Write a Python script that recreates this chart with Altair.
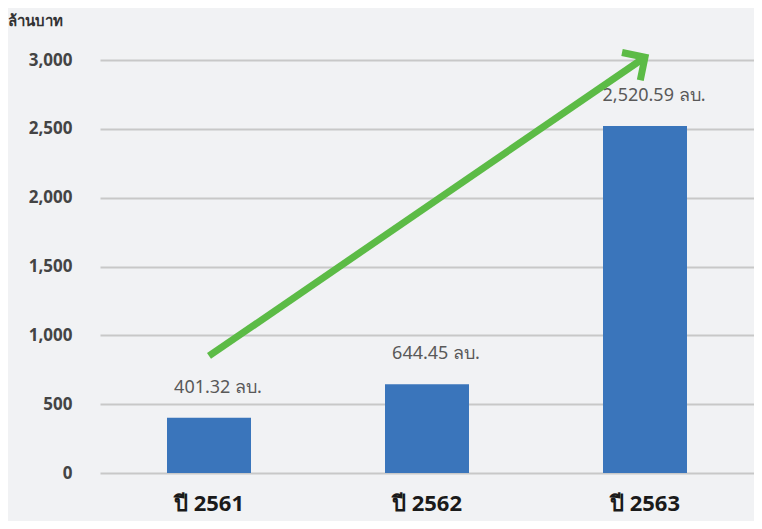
import altair as alt
import pandas as pd

years = ["ปี 2561", "ปี 2562", "ปี 2563"]
values = [401.32, 644.45, 2520.59]
labels = ["401.32 ลบ.", "644.45 ลบ.", "2,520.59 ลบ."]
y_ticks = [0, 500, 1000, 1500, 2000, 2500, 3000]
arrow_x = ["ปี 2561", "ปี 2563"]
arrow_y = [850, 3020]

FONT = "Noto Sans"
df = pd.DataFrame({"year": years, "value": values, "label": labels})
arrow = pd.DataFrame({"x": [arrow_x[0]], "y": [arrow_y[0]], "x2": [arrow_x[1]], "y2": [arrow_y[1]]})
head = pd.DataFrame({"x": [arrow_x[1]], "y": [arrow_y[1]]})

xenc = alt.X("year:N", sort=years, title=None,
             scale=alt.Scale(paddingInner=0, paddingOuter=0),
             axis=alt.Axis(labelAngle=0, labelFontSize=22, labelFontWeight="bold",
                           labelColor="#1a1a1a", labelPadding=20, ticks=False, domain=False,
                           labelFont=FONT))
yscale = alt.Scale(domain=[0, 3000], nice=False)
yenc = alt.Y("value:Q", scale=yscale, title="ล้านบาท",
             axis=alt.Axis(values=y_ticks, format=",.0f", labelFontSize=17, labelFontWeight="bold",
                           labelColor="#444444", labelPadding=28, ticks=False, domain=False,
                           gridColor="#C8C8C8", gridWidth=2, labelFont=FONT,
                           titleAngle=0, titleAlign="left", titleBaseline="middle",
                           titleX=-93, titleY=-40, titleFontSize=15, titleFontWeight="bold",
                           titleColor="#333333", titleFont=FONT))

bars = alt.Chart(df).mark_bar(size=84, color="#3A75BB").encode(x=xenc, y=yenc)
text = alt.Chart(df).mark_text(dy=-30, dx=9, fontSize=18, color="#595959", font=FONT).encode(
    x=alt.X("year:N", sort=years), y=alt.Y("value:Q", scale=yscale), text="label:N")

line = alt.Chart(arrow).mark_rule(color="#5CBB46", strokeWidth=7).encode(
    x=alt.X("x:N", sort=years), y=alt.Y("y:Q", scale=yscale),
    x2="x2:N", y2="y2:Q")
arrowhead = alt.Chart(head).mark_point(
    shape="M-1,1L0,0L1,1", filled=False, stroke="#5CBB46", strokeWidth=7,
    size=1100, angle=56.6, opacity=1, strokeJoin="miter").encode(
    x=alt.X("x:N", sort=years), y=alt.Y("y:Q", scale=yscale))

chart = alt.layer(bars, text, line, arrowhead).properties(
    width=654, height=413,
    autosize=alt.AutoSizeParams(type="none"),
    padding={"left": 92, "top": 52, "right": 0, "bottom": 48},
    background="#F1F2F4",
).configure_view(stroke=None)

chart.save("out.html", embed_options={"renderer": "svg", "actions": False})
